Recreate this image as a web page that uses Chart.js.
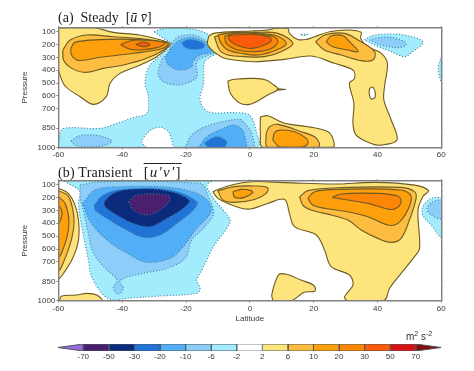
<!DOCTYPE html>
<html><head><meta charset="utf-8">
<script src="https://cdn.jsdelivr.net/npm/chart.js@4"></script>
<style>
html,body{margin:0;padding:0;background:#fff;width:474px;height:371px;overflow:hidden}
canvas{position:absolute;left:0;filter:blur(0.35px)}
.t{position:absolute;font-family:"Liberation Serif",serif;color:#222;white-space:pre;font-size:14px;line-height:16px}
.u{position:absolute;font-family:"Liberation Sans",sans-serif;color:#333;font-size:10px;line-height:12px;white-space:pre}
sup{font-size:7px;line-height:0}
</style></head><body>
<canvas id="ca" width="474" height="165" style="top:0"></canvas>
<canvas id="cb" width="474" height="165" style="top:165px"></canvas>
<canvas id="cc" width="474" height="41" style="top:330px"></canvas>
<div class="t" style="left:58px;top:10px">(a)  Steady  [<i>ū v̄</i>]</div>
<div class="t" style="left:58px;top:164px;letter-spacing:0.2px">(b) Transient   <span style="text-decoration:overline;font-size:15px;letter-spacing:1.2px">[<i>u′v′</i>]</span></div>
<div class="u" style="left:406px;top:331px">m<sup>2</sup> s<sup>-2</sup></div>
<script>
const latitudeTicks=[-60,-40,-20,0,20,40,60];
const pressureTicks=[100,200,300,400,500,600,700,850,1000];
const colorLevels=[-70,-50,-30,-20,-10,-6,-2,2,6,10,20,30,50,70];
const colorBins=['#9a68e0','#4a1f6e','#0b2a7c','#2273d6','#52aef6','#8ccdf9','#a2ecfd','#ffffff','#fee47c','#fdbd40','#fda00c','#fd8606','#fb5a0a','#d81212','#8a0c0c'];
const fillOf={n2:'#a2ecfd',n6:'#8ccdf9',n10:'#52aef6',n20:'#2273d6',n30:'#0b2a7c',n50:'#4a1f6e',p2:'#fee47c',p6:'#fdbd40',p10:'#fda00c',p20:'#fd8606',p30:'#fb5a0a',w:'#ffffff'};

// Panel (a) contours: [latitude, pressure]
const aN2Main=[[-30,101],[-27.1,78],[-21.9,73],[-15.6,93],[-12.5,135],[-9.3,243],[-13,308],[-14.3,347],[-14.5,502],[-15.6,632],[-13,723],[-4.9,730],[-0.1,749],[1.9,865],[2.4,1000],[-23.4,1000],[-24.5,943],[-25.5,878],[-28.1,844],[-31.3,870],[-33.9,956],[-32.8,1000],[-60,1000],[-59.7,917],[-58.4,852],[-46.9,852],[-41.7,813],[-36.5,767],[-32.3,736],[-31.8,606],[-32.8,502],[-31.6,373],[-26.6,256],[-24.8,192],[-27.1,153]];
const aN2NE=[[36,166],[38,135],[42.2,119],[48.5,127],[53.7,166],[54.2,192],[51,256],[48.5,295],[44.3,256],[39.1,205]];
const aN2Edge=[[60,295],[59,386],[60,489]];
const aN2Speck=[[16,122],[18,122],[18,128],[16,128]];
const aN6Top=[[-24.5,192],[-22.4,140],[-17.7,127],[-13.5,179],[-10.4,256],[-13,282],[-16.6,334],[-16.6,451],[-19.8,502],[-22.9,515],[-27.1,490],[-28.7,438],[-27.6,321],[-25.5,256]];
const aN6Low=[[-20.3,1000],[-18.2,904],[-13.5,834],[-7.2,793],[-3.1,782],[-1.8,808],[0.3,878],[0.8,1000]];
const aN6SW=[[-56,951],[-53.7,912],[-49,904],[-44.3,930],[-43.3,956],[-45.9,987],[-51.1,995],[-54.8,982]];
const aN6NE=[[37.5,166],[40.1,148],[44.3,145],[48.5,179],[49,205],[46.4,225],[41.2,205]];
const aN10Top=[[-26.5,300],[-25,243],[-23.4,192],[-20.8,153],[-16.6,153],[-11.9,218],[-11.4,256],[-15.6,282],[-17.9,334],[-18.2,373],[-21.9,399],[-25.5,360]];
const aN10Low=[[-16.1,1000],[-13.5,917],[-8.3,852],[-4.9,826],[-2.3,865],[-1.3,943],[-1.3,1000]];
const aN20Top=[[-21.3,184],[-18.7,161],[-14.5,192],[-14.5,225],[-18.2,238],[-20.6,218]];
const aN20Low=[[-14.2,964],[-10.4,917],[-7.2,956],[-8.3,1000],[-13,1000]];
const aP2West=[[-60,70],[-49,70],[-42.8,106],[-34.5,127],[-26,179],[-25,197],[-26,231],[-29.2,295],[-34.4,360],[-40.7,425],[-43.8,502],[-45,606],[-49,666],[-53.2,606],[-57.9,523],[-59.7,425],[-60,386]];
const aP6West=[[-58.6,243],[-56.3,166],[-51.1,127],[-42.8,140],[-34.4,155],[-26,187],[-25.5,205],[-27,243],[-32.3,308],[-39.6,360],[-45.9,386],[-51.6,417],[-55.8,386],[-58.4,321]];
const aP10West=[[-56.1,231],[-54.8,184],[-46.9,163],[-36.5,161],[-26,187],[-25.7,205],[-28.1,238],[-36.5,269],[-46.9,300],[-53.7,324],[-55.9,282]];
const aP20West=[[-40.5,200],[-36.5,168],[-30.2,171],[-26.6,192],[-29.2,225],[-34.4,243],[-38,233]];
const aP30West=[[-35.7,200],[-33.4,181],[-31.3,200],[-33.4,218]];
const aP2Ribbon=[[-12.9,135],[-11.3,114],[-6.1,101],[0.4,96],[5.6,88],[7.7,75],[11.9,75],[12.4,114],[15,161],[17.7,161],[20.3,140],[25,101],[30.7,88],[34.9,106],[34.7,153],[37,218],[41.2,269],[43.1,347],[42.2,528],[42,632],[44.3,787],[46.1,943],[41.2,982],[38,969],[33.3,904],[32.3,813],[32.6,658],[31.2,502],[32.8,464],[32.3,399],[26.5,347],[19.2,290],[10.9,316],[1.5,334],[-4.8,321],[-9,295],[-13.2,205]];
const aHole=[[37.5,541],[38.6,533],[39.3,606],[38,624],[37.4,580]];
const aP6Eq=[[-11.1,140],[-6.9,109],[1.5,106],[8.8,114],[13.5,192],[9.8,256],[4.6,295],[-1.7,295],[-6.9,282],[-9.5,243]];
const aP10Eq=[[-10,127],[-5.8,109],[1.5,111],[8.3,132],[11.4,192],[8.3,243],[2.5,282],[-2.7,269],[-6.9,243],[-9,192]];
const aP20Eq=[[-7.9,135],[-4.8,114],[1.5,114],[7.5,140],[8.8,179],[6.7,231],[1.5,256],[-3.8,243],[-7.4,192]];
const aP30Eq=[[-6.9,135],[-4.8,127],[1.5,122],[6.2,145],[6.7,171],[4.6,205],[0.4,231],[-3.8,210],[-6.4,166]];
const aP6Sub=[[20.6,179],[23.4,127],[29.7,114],[33.9,166],[39.1,256],[38.6,321],[34.9,326],[28.6,282],[23.4,243]];
const aP10Sub=[[23.9,179],[25.5,135],[29.2,132],[31.2,179],[34,256],[30.7,243],[26,218]];
const aP2Mid=[[-6.9,484],[-4.8,471],[1.5,464],[5.1,477],[7.5,515],[8.8,549],[5.6,593],[2,645],[-0.1,666],[-3,658],[-6.1,580]];
const aP2Spur=[[8.6,545],[11.4,549],[8.6,553]];
const aP2Low=[[3.3,762],[5.6,754],[10.9,813],[18.2,839],[24.5,878],[26.2,943],[26,1000],[4.1,1000],[3.3,891]];
const aP6Low=[[5.1,891],[6.2,839],[8.8,821],[16.1,878],[20.3,917],[21.8,969],[21.3,1000],[5.6,1000]];
const aP10Low=[[7.2,943],[7.7,886],[9.8,865],[14,878],[17.7,930],[18.2,969],[16.6,995],[9.3,995]];

// Panel (b) contours: [latitude, pressure]
const bN2Main=[[-58.4,70],[-11.9,70],[-13.5,104],[-11.4,207],[-8.8,284],[-6.2,375],[-7.2,439],[-11.4,581],[-15,762],[-16.6,840],[-15.6,904],[-16.6,943],[-28.1,964],[-38.6,982],[-42.8,995],[-45.9,956],[-49.6,814],[-50.6,685],[-52.7,426],[-53.7,246],[-53.2,155],[-56.9,91]];
const bN6Main=[[-53.2,104],[-46.9,78],[-15.6,91],[-13,194],[-11.4,323],[-14.5,439],[-18.2,530],[-20.3,672],[-26,749],[-33.4,788],[-39.6,827],[-40.7,858],[-39.6,904],[-41.2,948],[-42.8,904],[-41.7,840],[-44.8,762],[-49,633],[-50.6,478],[-52.2,297],[-53.2,194]];
const bN10Main=[[-52.4,246],[-48.5,142],[-39.6,116],[-25,122],[-16.6,168],[-13,233],[-12.1,310],[-16.6,439],[-21.3,594],[-25,672],[-32.3,703],[-37.5,646],[-44.8,530],[-50,388]];
const bN20Main=[[-48.8,259],[-45.9,181],[-39.6,137],[-25,142],[-16.6,233],[-17.7,297],[-22.9,401],[-28.1,491],[-33.4,509],[-38.6,452],[-44.8,362],[-48.5,297]];
const bN30Main=[[-45.7,233],[-42.8,168],[-37.5,137],[-26,147],[-19,220],[-20.8,284],[-26,362],[-31.3,426],[-36.5,401],[-41.7,336],[-45.4,271]];
const bN50Main=[[-38,233],[-35.4,181],[-26,181],[-25,220],[-28.1,297],[-32.3,336],[-36.5,297]];
const bN2East=[[60.2,199],[56.8,207],[54.2,271],[54.2,336],[56.8,414],[60.2,509]];
const bN6East=[[60.2,215],[57.3,233],[55.6,284],[56.8,336],[60.2,362]];
const bP2West=[[-60,129],[-56.9,168],[-54.8,259],[-53.7,375],[-53.7,530],[-55.3,659],[-58.4,788],[-60,827]];
const bP6West=[[-60,147],[-56.9,189],[-55.3,323],[-55.3,452],[-56.9,607],[-60,762]];
const bP10West=[[-60,194],[-57.9,246],[-56.7,375],[-57.4,517],[-60,659]];
const bP20West=[[-60,259],[-59,297],[-59,349],[-60,400]];
const bP2SW=[[-59.7,1000],[-59,964],[-54.3,956],[-51.1,943],[-48,956],[-46.4,1000]];
const bP2East=[[-11.6,155],[-6.9,111],[0.4,78],[10.9,85],[26.5,96],[39.1,83],[51.6,104],[56,147],[54.2,194],[52.7,297],[53.2,594],[51.6,659],[47.4,788],[43.8,904],[42.7,982],[41.7,1000],[30.7,1000],[29.7,969],[32.3,878],[31.2,801],[25.5,736],[23.4,607],[20.8,491],[14,426],[12.4,323],[10.9,215],[5.6,246],[-0.6,290],[-6.9,246],[-10,207]];
const bP6Eq=[[-10,147],[-4.8,116],[1.5,111],[5.6,124],[5.1,168],[1.5,215],[-4.8,238],[-8.5,220]];
const bP10Eq=[[-5.3,155],[-2.7,137],[0.4,147],[0.9,163],[-1.7,199],[-4.8,199]];
const bP6Sub=[[15.6,194],[18.2,147],[28.6,124],[47.4,122],[51.6,155],[52.1,207],[50,375],[47.4,517],[44.3,548],[40.1,517],[34.9,452],[30.7,375],[25.5,336],[19.2,297],[16.6,259]];
const bP10Sub=[[18.2,207],[20.3,155],[28.6,137],[47.4,142],[50.5,189],[49.5,297],[46.4,401],[43.3,414],[37,349],[30.7,310],[23.4,284],[19.7,259]];
const bP20Sub=[[25.8,199],[28.6,173],[39.1,168],[46.4,189],[47.4,233],[45.9,284],[43.8,292],[37,246],[30.7,220]];
const bP2Low=[[7.2,1000],[6.9,950],[9,800],[11.5,795],[16,840],[20,880],[20.4,925],[17,935],[13,1000]];

const layersA=[[aN2Main,'n2'],[aN2NE,'n2'],[aN2Edge,'n2'],[aN2Speck,'n2'],[aN6Top,'n6'],[aN6Low,'n6'],[aN6SW,'n6'],[aN6NE,'n6'],[aN10Top,'n10'],[aN10Low,'n10'],[aN20Top,'n20'],[aN20Low,'n20'],
[aP2West,'p2'],[aP6West,'p6'],[aP10West,'p10'],[aP20West,'p20'],[aP30West,'p30'],[aP2Ribbon,'p2'],[aHole,'w'],[aP6Eq,'p6'],[aP10Eq,'p10'],[aP20Eq,'p20'],[aP30Eq,'p30'],[aP6Sub,'p6'],[aP10Sub,'p10'],[aP2Mid,'p2'],[aP2Spur,'p2'],[aP2Low,'p2'],[aP6Low,'p6'],[aP10Low,'p10']];
const layersB=[[bN2Main,'n2'],[bN6Main,'n6'],[bN10Main,'n10'],[bN20Main,'n20'],[bN30Main,'n30'],[bN50Main,'n50'],[bN2East,'n2'],[bN6East,'n6'],
[bP2West,'p2'],[bP6West,'p6'],[bP10West,'p10'],[bP20West,'p10'],[bP2SW,'p2'],[bP2East,'p2'],[bP6Eq,'p6'],[bP10Eq,'p10'],[bP6Sub,'p6'],[bP10Sub,'p10'],[bP20Sub,'p20'],[bP2Low,'p2']];

Chart.defaults.animation=false;
Chart.defaults.font.family='"Liberation Sans",sans-serif';
Chart.defaults.font.size=8;
Chart.defaults.color='#3a3a3a';

function contour(pair){
  const pts=pair[0].concat([pair[0][0]]).map(p=>({x:p[0],y:p[1]}));
  const neg=pair[1][0]==='n';
  return {data:pts,showLine:true,pointRadius:0,fill:'shape',tension:0.35,
    backgroundColor:fillOf[pair[1]],
    borderColor:neg?'#3f7d96':'#6e5a24',
    borderWidth:neg?1.1:1.1,
    borderDash:neg?[1,2]:[]};
}
const AX='#808080';
function panel(id,layers,top,bottomH,padBottom,showLat){
  new Chart(document.getElementById(id),{
    type:'scatter',
    // Chart.js paints the first dataset last, so the outermost contour goes at the end
    data:{datasets:layers.map(contour).reverse()},
    options:{responsive:false,devicePixelRatio:1,
      layout:{padding:{left:18.4,right:32.7,top:top,bottom:padBottom}},
      plugins:{legend:{display:false},tooltip:{enabled:false}},
      scales:{
        x:{type:'linear',position:'bottom',min:-60,max:60,
          afterFit(s){s.height=bottomH;},
          afterBuildTicks(s){s.ticks=latitudeTicks.map(v=>({value:v}));},
          ticks:{maxRotation:0,padding:1,autoSkip:false,callback:v=>String(v)},
          grid:{drawOnChartArea:false,tickLength:2,color:AX,z:2},
          border:{color:AX,width:1.4,z:2},
          title:{display:showLat,text:'Latitude',font:{size:8},color:'#3a3a3a',padding:{top:1,bottom:0}}},
        y:{type:'linear',position:'left',reverse:true,min:70,max:1000,
          afterFit(s){s.width=40;},
          afterBuildTicks(s){s.ticks=pressureTicks.map(v=>({value:v}));},
          ticks:{padding:1,autoSkip:false,callback:v=>String(v)},
          grid:{drawOnChartArea:false,tickLength:2,color:AX,z:2},
          border:{color:AX,width:1.4,z:2},
          title:{display:true,text:'Pressure',font:{size:8},color:'#3a3a3a',padding:{top:2,bottom:0}}},
        xTop:{type:'linear',position:'top',min:-60,max:60,
          afterFit(s){s.height=0;},
          afterBuildTicks(s){s.ticks=latitudeTicks.map(v=>({value:v}));},
          ticks:{display:false},
          grid:{drawOnChartArea:false,tickLength:1.5,color:AX,z:2},
          border:{color:AX,width:1.4,z:2}},
        yRight:{type:'linear',position:'right',reverse:true,min:70,max:1000,
          afterFit(s){s.width=0;},
          afterBuildTicks(s){s.ticks=[100,150,200,250,300,350,400,450,500,550,600,650,700,750,800,850,900,950,1000].map(v=>({value:v}));},
          ticks:{display:false},
          grid:{drawOnChartArea:false,tickLength:1.5,color:'#666',z:2},
          border:{color:AX,width:1.4,z:2}}
      }
    }
  });
}
panel('ca',layersA,27.7,17.6,0,false);
panel('cb',layersB,15.7,23,6.3,true);

// colour bar: each bin spans two neighbouring level positions
const barShapes=colorBins.map((c,i)=>{
  let pts;
  if(i===0) pts=[[0,0],[-1,0.5],[0,1]];
  else if(i===colorBins.length-1) pts=[[i-1,0],[i,0.5],[i-1,1]];
  else pts=[[i-1,0],[i,0],[i,1],[i-1,1]];
  return {data:pts.concat([pts[0]]).map(p=>({x:p[0],y:p[1]})),showLine:true,pointRadius:0,fill:'shape',tension:0,
    backgroundColor:c,borderColor:i===7?'#7d8a90':'#4d5a60',borderWidth:1};
});
new Chart(document.getElementById('cc'),{
  type:'scatter',
  data:{datasets:barShapes},
  options:{responsive:false,devicePixelRatio:1,
    layout:{padding:{left:57.7,right:32.7,top:14,bottom:0}},
    plugins:{legend:{display:false},tooltip:{enabled:false}},
    scales:{
      x:{type:'linear',min:-1,max:14,
        afterFit(s){s.height=20;},
        afterBuildTicks(s){s.ticks=colorLevels.map((v,i)=>({value:i}));},
        ticks:{padding:1,autoSkip:false,maxRotation:0,callback:v=>String(colorLevels[v])},
        grid:{display:false,drawTicks:false,tickLength:0},border:{display:false}},
      y:{type:'linear',min:0,max:1,display:false}
    }
  }
});
</script>
</body></html>
